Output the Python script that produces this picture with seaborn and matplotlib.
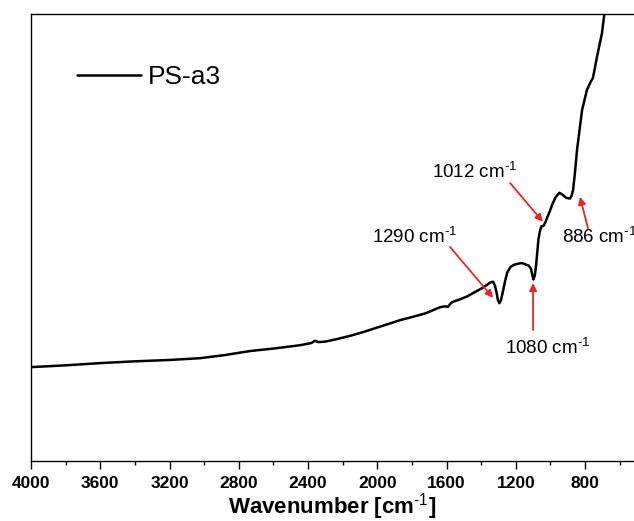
import numpy as np
import pandas as pd
import matplotlib
matplotlib.use("Agg")
import matplotlib.pyplot as plt
from matplotlib.ticker import MultipleLocator
import seaborn as sns

# FTIR spectrum of sample PS-a3 (arbitrary transmittance units)
wavenumber = [4000, 3800, 3600, 3400, 3200, 3024, 2880, 2735, 2590, 2446,
              2380, 2360, 2340, 2302, 2230, 2157, 2085, 2013, 1940, 1869,
              1800, 1724, 1680, 1638, 1610, 1591, 1575, 1563, 1520, 1482,
              1445, 1407, 1370, 1345, 1331, 1320, 1310, 1303, 1295, 1285,
              1275, 1260, 1249, 1230, 1210, 1190, 1165, 1145, 1125, 1112,
              1104, 1098, 1090, 1083, 1075, 1069, 1060, 1052, 1040, 1030,
              1015, 1006, 990, 970, 948, 930, 910, 887, 878, 869,
              858, 846, 817, 789, 770, 762, 755, 745, 731, 702,
              690, 670]
signal = [21.0, 21.4, 21.9, 22.3, 22.6, 23.0, 23.7, 24.6, 25.2, 25.9,
          26.4, 26.9, 26.6, 26.7, 27.3, 28.0, 28.8, 29.7, 30.6, 31.5,
          32.2, 33.0, 33.7, 34.4, 34.6, 34.5, 35.3, 35.6, 36.2, 36.8,
          37.6, 38.4, 39.3, 40.0, 40.1, 39.2, 37.5, 36.0, 35.3, 36.0,
          37.8, 40.5, 42.2, 43.4, 43.9, 44.1, 44.3, 44.0, 43.7, 43.0,
          41.5, 40.6, 41.5, 43.6, 47.0, 49.6, 51.5, 52.5, 52.6, 53.3,
          54.8, 55.6, 57.3, 59.0, 60.0, 59.6, 58.9, 58.7, 59.3, 60.6,
          64.5, 69.6, 78.5, 83.0, 84.6, 85.2, 85.6, 87.5, 90.4, 95.7,
          99.5, 104.0]

# Band annotations: label text, label position, arrow tail and arrow head
band_labels = ["1290", "1080", "1012", "886"]
label_pos = [(1782, 50.1), (1014, 25.2), (1435, 64.7), (933, 50.1)]
label_ha = ["center", "center", "center", "left"]
arrow_tail = [(1580, 47.9), (1100, 29.3), (1233, 62.2), (783, 52.1)]
arrow_head = [(1331, 36.5), (1100, 39.8), (1043, 53.5), (829, 59.1)]

df = pd.DataFrame({"wavenumber": wavenumber, "signal": signal})

sns.set_style("white")
plt.rcParams["font.family"] = ["Liberation Sans", "DejaVu Sans"]
plt.rcParams["mathtext.fontset"] = "custom"
plt.rcParams["mathtext.rm"] = "Liberation Sans"
plt.rcParams["mathtext.it"] = "Liberation Sans:italic"
plt.rcParams["mathtext.bf"] = "Liberation Sans:bold"
plt.rcParams["text.color"] = "black"
plt.rcParams["axes.labelcolor"] = "black"
plt.rcParams["xtick.color"] = "black"

fig = plt.figure(figsize=(6.34, 5.21), dpi=100)
ax = fig.add_axes([31 / 634, 60 / 521, 1 - 31 / 634, 447 / 521])

sns.lineplot(data=df, x="wavenumber", y="signal", ax=ax, color="black",
             linewidth=1.8, label="PS-a3", errorbar=None)

ax.set_xlim(4000, 517)
ax.set_ylim(0, 100)
ax.xaxis.set_major_locator(MultipleLocator(400))
ax.xaxis.set_minor_locator(MultipleLocator(200))
ax.set_yticks([])
ax.set_ylabel("")
ax.tick_params(axis="x", which="major", direction="out", length=6, width=1.0,
               labelsize=12.5, pad=5, bottom=True, colors="black")
ax.tick_params(axis="x", which="minor", direction="out", length=3, width=1.0,
               bottom=True)
for lbl in ax.get_xticklabels():
    lbl.set_fontweight("bold")
ax.set_xlabel(r"Wavenumber [cm$^{\mathbf{\text{-1}}}$]", fontsize=16,
              fontweight="bold", labelpad=0, color="black")

for side in ["left", "top", "bottom"]:
    ax.spines[side].set_visible(True)
    ax.spines[side].set_color("black")
    ax.spines[side].set_linewidth(1.0)
ax.spines["right"].set_visible(False)

for text, pos, ha, tail, head in zip(band_labels, label_pos, label_ha,
                                     arrow_tail, arrow_head):
    ax.text(pos[0], pos[1], text + r" cm$^{\text{-1}}$", fontsize=13.5, ha=ha,
            va="center", color="black")
    ax.annotate("", xy=head, xytext=tail,
                arrowprops=dict(arrowstyle="-|>", color="#e8262b", lw=1.3,
                                mutation_scale=11, shrinkA=0, shrinkB=0))

leg = ax.legend(loc="upper left", bbox_to_anchor=(0.076, 0.885), frameon=False,
                fontsize=19, handlelength=2.45, handletextpad=0.25,
                borderpad=0, borderaxespad=0, labelcolor="black")
for line in leg.get_lines():
    line.set_linewidth(1.8)

fig.savefig("out.png", dpi=100)
